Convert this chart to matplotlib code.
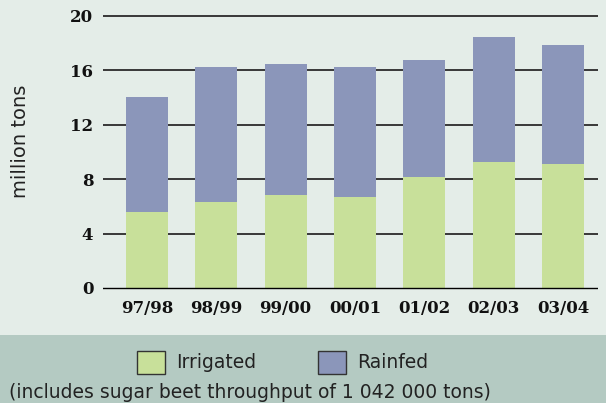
import matplotlib.pyplot as plt
from matplotlib.patches import Rectangle

seasons = ['97/98', '98/99', '99/00', '00/01', '01/02', '02/03', '03/04']
irrigated = [5.6, 6.35, 6.85, 6.7, 8.15, 9.25, 9.1]
total = [14.05, 16.25, 16.45, 16.25, 16.75, 18.45, 17.85]
rainfed = [t - i for t, i in zip(total, irrigated)]
yticks = [0, 4, 8, 12, 16, 20]

green = '#c8e09a'
blue = '#8b96ba'
bg_top = '#e4ede8'
bg_bot = '#b4cac2'

fig = plt.figure(figsize=(6.06, 4.03), dpi=100, facecolor=bg_top)
fig.patches.append(Rectangle((0, 0), 1, 68 / 403, transform=fig.transFigure,
                             facecolor=bg_bot, edgecolor='none', zorder=0))

ax = fig.add_axes([103 / 606, (403 - 294.8) / 403, 495 / 606, 285.6 / 403])
ax.set_facecolor(bg_top)
for s in ax.spines.values():
    s.set_visible(False)

x = list(range(len(seasons)))
ax.bar(x, irrigated, width=0.606, color=green, zorder=3)
ax.bar(x, rainfed, bottom=irrigated, width=0.606, color=blue, zorder=3)

for v in yticks[1:]:
    ax.axhline(v, color='#2a2a2a', lw=1.3, zorder=1)
ax.axhline(0, color='black', lw=1.0, zorder=4)

ax.set_xlim(-0.635, 6.505)
ax.set_ylim(-0.5, 20.5)
ax.set_yticks(yticks)
ax.set_xticks(x)
ax.set_xticklabels(seasons)
ax.tick_params(axis='y', length=0, pad=7)
ax.tick_params(axis='x', length=0, pad=4)
for lab in ax.get_xticklabels() + ax.get_yticklabels():
    lab.set_family('DejaVu Serif')
    lab.set_weight('bold')
    lab.set_fontsize(12)
    lab.set_color('#111111')

sans = 'DejaVu Sans'
fig.text(21 / 606, 1 - 141 / 403, 'million tons', rotation=90, ha='center',
         va='center', fontsize=14, family=sans, color='#222222')

# legend
for x0, c, lab in [(137, green, 'Irrigated'), (318, blue, 'Rainfed')]:
    fig.patches.append(Rectangle((x0 / 606, 1 - 374 / 403), 28 / 606, 23 / 403,
                                 transform=fig.transFigure, facecolor=c,
                                 edgecolor='#333333', lw=1.0, zorder=2))
    fig.text((x0 + 39) / 606, 1 - 362 / 403, lab, ha='left', va='center',
             fontsize=13.5, family=sans, color='#222222')

fig.text(9 / 606, 1 - 392 / 403,
         '(includes sugar beet throughput of 1 042 000 tons)',
         ha='left', va='center', fontsize=13.5, family=sans,
         color='#222222')

fig.savefig('out.png', dpi=100, facecolor=bg_top)
